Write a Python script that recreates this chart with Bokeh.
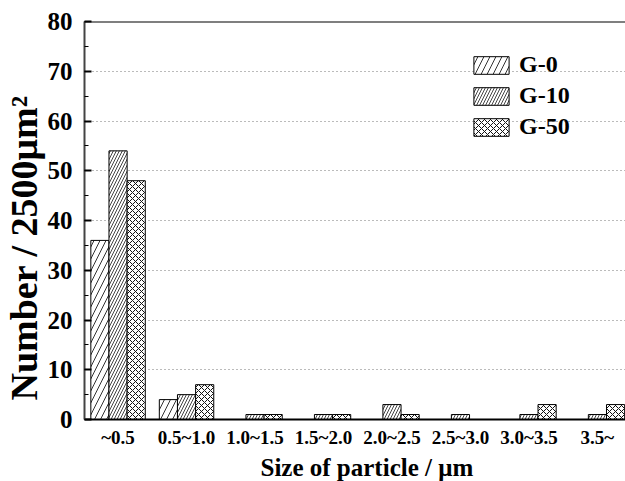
from bokeh.plotting import figure
from bokeh.models import (ColumnDataSource, Range1d, SingleIntervalTicker, FixedTicker,
                          Span, Legend, LegendItem, Title)
from bokeh.transform import dodge
from bokeh.embed import file_html
from bokeh.resources import INLINE

categories = ["~0.5", "0.5~1.0", "1.0~1.5", "1.5~2.0", "2.0~2.5", "2.5~3.0", "3.0~3.5", "3.5~"]
g0 = [36, 4, 0, 0, 0, 0, 0, 0]
g10 = [54, 5, 1, 1, 3, 1, 1, 1]
g50 = [48, 7, 1, 1, 1, 0, 3, 3]
series_names = ["G-0", "G-10", "G-50"]
x_title = "Size of particle / μm"
y_title = "Number / 2500μm²"

FONT = "Liberation Serif"
pos = list(range(len(categories)))
src = ColumnDataSource(dict(x=pos, g0=g0, g10=g10, g50=g50))

p = figure(width=625, height=481, output_backend="svg", toolbar_location=None,
           x_range=Range1d(-0.49, 7.41), y_range=Range1d(0, 80),
           min_border_left=84, min_border_right=0, min_border_top=21, min_border_bottom=62)
p.outline_line_color = None
p.background_fill_color = "white"

bw = 0.265
styles = [
    dict(col="g0", off=-bw, hatch="/", scale=12, hcolor="#333333"),
    dict(col="g10", off=0.0, hatch="/", scale=6, hcolor="#444444"),
    dict(col="g50", off=bw, hatch="x", scale=6, hcolor="#111111"),
]
renderers = []
for s in styles:
    r = p.vbar(x=dodge("x", s["off"], range=p.x_range), top=s["col"], width=bw, source=src,
               fill_color="white", line_color="black", line_width=1,
               hatch_pattern=s["hatch"], hatch_scale=s["scale"], hatch_color=s["hcolor"],
               hatch_weight=1)
    renderers.append(r)

# axes
p.xaxis.ticker = FixedTicker(ticks=pos)
p.xaxis.major_label_overrides = {i: c for i, c in enumerate(categories)}
p.xaxis.major_tick_in = 0
p.xaxis.major_tick_out = 0
p.xaxis.minor_tick_in = 0
p.xaxis.minor_tick_out = 0
p.xaxis.axis_line_width = 2
p.xaxis.axis_line_color = "black"
p.xaxis.major_label_text_font = FONT
p.xaxis.major_label_text_font_style = "bold"
p.xaxis.major_label_text_font_size = "19px"
p.xaxis.major_label_text_color = "black"
p.xaxis.major_label_standoff = 7

p.yaxis.ticker = SingleIntervalTicker(interval=10, num_minor_ticks=2)
p.yaxis.major_tick_in = 7
p.yaxis.major_tick_out = 0
p.yaxis.minor_tick_in = 4
p.yaxis.minor_tick_out = 0
p.yaxis.major_tick_line_color = "black"
p.yaxis.minor_tick_line_color = "black"
p.yaxis.major_tick_line_width = 2
p.yaxis.axis_line_width = 2
p.yaxis.axis_line_color = "#444444"
p.yaxis.major_label_text_font = FONT
p.yaxis.major_label_text_font_style = "bold"
p.yaxis.major_label_text_font_size = "25px"
p.yaxis.major_label_text_color = "black"
p.yaxis.major_label_standoff = 12

p.xgrid.visible = False
p.ygrid.grid_line_color = "#777777"
p.ygrid.grid_line_dash = "1 3"
p.ygrid.grid_line_width = 1

p.add_layout(Span(location=80, dimension="width", line_color="black", line_width=2))

# axis titles as side titles (allows offset along the axis)
p.add_layout(Title(text=x_title, align="left", offset=176, standoff=2,
                   text_font=FONT, text_font_style="bold", text_font_size="25px",
                   text_color="black"), "below")
p.add_layout(Title(text=y_title, align="left", offset=19, standoff=0,
                   text_font=FONT, text_font_style="bold", text_font_size="38px",
                   text_color="black"), "left")

legend = Legend(items=[LegendItem(label=n, renderers=[r]) for n, r in zip(series_names, renderers)],
                location=(385, 279), orientation="vertical")
legend.glyph_width = 44
legend.glyph_height = 22
legend.label_height = 22
legend.spacing = 4
legend.padding = 0
legend.margin = 0
legend.label_standoff = 6
legend.border_line_color = None
legend.background_fill_alpha = 0
legend.label_text_font = FONT
legend.label_text_font_style = "bold"
legend.label_text_font_size = "24px"
legend.label_text_color = "black"
p.add_layout(legend, "center")

open("out.html", "w").write(file_html(p, INLINE))
